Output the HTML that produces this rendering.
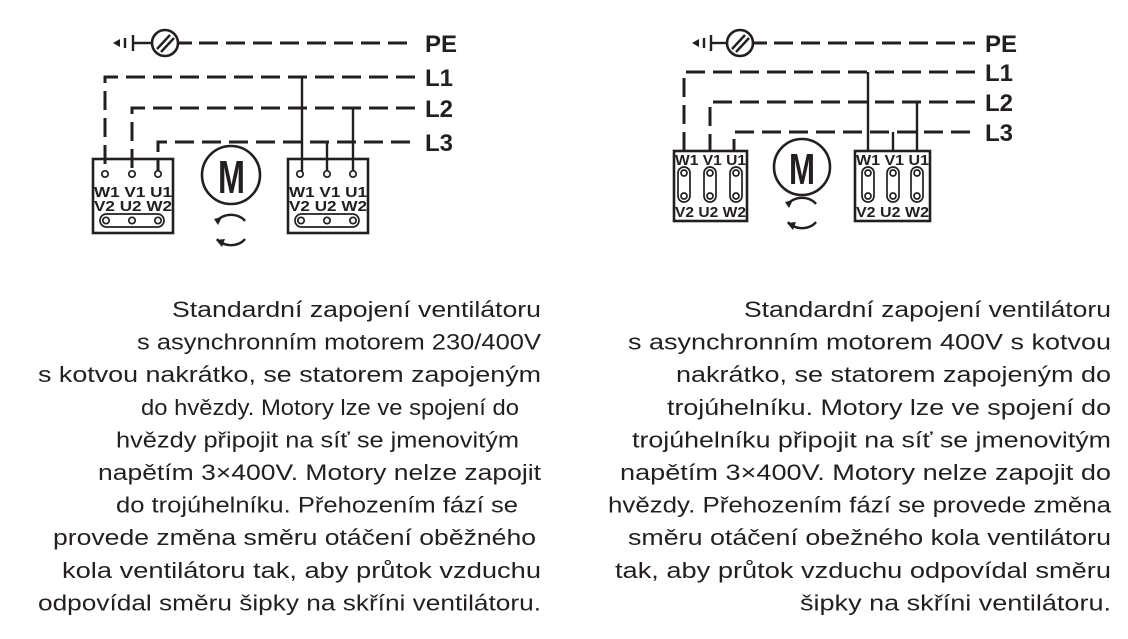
<!DOCTYPE html>
<html><head><meta charset="utf-8"><style>
html,body{margin:0;padding:0;background:#fff;}
svg{display:block;}
.t{font-family:"Liberation Sans",sans-serif;font-size:22.5px;fill:#231f20;}
.b{font-family:"Liberation Sans",sans-serif;font-weight:bold;fill:#231f20;}
</style></head><body>
<svg width="1128" height="639" viewBox="0 0 1128 639" xmlns="http://www.w3.org/2000/svg">
<defs>
<g id="arr">
  <path d="M-14,8 A16,12 0 0 1 14,8" fill="none" stroke="#231f20" stroke-width="2.4"/>
  <path d="M-17,6 L-9,4 L-13,12 Z" fill="#231f20"/>
  <path d="M-14,26 A16,12 0 0 0 14,26" fill="none" stroke="#231f20" stroke-width="2.4"/>
  <path d="M-15,27 L-6,26 L-9,34 Z" fill="#231f20"/>
</g>
</defs>
<g stroke="#231f20" fill="none">
<!-- LEFT DIAGRAM -->
<path d="M113,43 L120,39 L120,47 Z" fill="#231f20" stroke="none"/>
<line x1="125" y1="38" x2="125" y2="48" stroke-width="2.4"/>
<line x1="133" y1="35" x2="133" y2="51" stroke-width="2.4"/>
<line x1="133" y1="43" x2="151" y2="43" stroke-width="2.4"/>
<circle cx="165" cy="43" r="13" stroke-width="2.6"/>
<line x1="157" y1="49" x2="170" y2="35" stroke-width="2.4"/>
<line x1="161" y1="52" x2="174" y2="38" stroke-width="2.4"/>
<line x1="178" y1="43" x2="192" y2="43" stroke-width="3"/>
<line x1="199" y1="43" x2="415" y2="43" stroke-width="3" stroke-dasharray="19,8"/>
<g stroke-width="3" stroke-dasharray="19,8">
<path d="M415,77 L105,77 L105,171"/>
<path d="M415,108 L132,108 L132,171"/>
<path d="M410,142 L158,142 L158,171"/>
</g>
<g stroke-width="2.4">
<line x1="302" y1="77" x2="302" y2="171"/>
<line x1="327" y1="142" x2="327" y2="171"/>
<line x1="353" y1="108" x2="353" y2="171"/>
</g>
<rect x="93" y="159" width="80" height="74" stroke-width="2.6"/>
<rect x="288" y="159" width="80" height="74" stroke-width="2.6"/>
<g stroke-width="1.7" fill="#fff">
<circle cx="105" cy="174" r="3.2"/><circle cx="132" cy="174" r="3.2"/><circle cx="158" cy="174" r="3.2"/>
<circle cx="300" cy="174" r="3.2"/><circle cx="327" cy="174" r="3.2"/><circle cx="353" cy="174" r="3.2"/>
<rect x="100" y="214" width="64" height="13" rx="6.5"/>
<rect x="295" y="214" width="64" height="13" rx="6.5"/>
<circle cx="106" cy="220.5" r="3.2"/><circle cx="132" cy="220.5" r="3.2"/><circle cx="158" cy="220.5" r="3.2"/>
<circle cx="301" cy="220.5" r="3.2"/><circle cx="327" cy="220.5" r="3.2"/><circle cx="353" cy="220.5" r="3.2"/>
</g>
<circle cx="231" cy="175" r="29" stroke-width="2.6"/>

<!-- RIGHT DIAGRAM -->
<path d="M692,43 L699,39 L699,47 Z" fill="#231f20" stroke="none"/>
<line x1="704" y1="38" x2="704" y2="48" stroke-width="2.4"/>
<line x1="711" y1="35" x2="711" y2="51" stroke-width="2.4"/>
<line x1="711" y1="43" x2="727" y2="43" stroke-width="2.4"/>
<circle cx="740" cy="43" r="13" stroke-width="2.6"/>
<line x1="732" y1="49" x2="745" y2="35" stroke-width="2.4"/>
<line x1="736" y1="52" x2="749" y2="38" stroke-width="2.4"/>
<line x1="753" y1="43" x2="767" y2="43" stroke-width="3"/>
<line x1="774" y1="43" x2="975" y2="43" stroke-width="3" stroke-dasharray="19,8"/>
<g stroke-width="3" stroke-dasharray="19,8">
<path d="M975,72 L684,72 L684,152"/>
<path d="M975,102 L710,102 L710,152"/>
<path d="M970,132 L734,132 L734,152"/>
</g>
<g stroke-width="2.4">
<line x1="868" y1="72" x2="868" y2="152"/>
<line x1="893" y1="132" x2="893" y2="152"/>
<line x1="917" y1="102" x2="917" y2="152"/>
</g>
<rect x="674" y="151" width="73" height="70" stroke-width="2.6"/>
<rect x="855" y="151" width="75" height="70" stroke-width="2.6"/>
<g stroke-width="1.7" fill="#fff">
<rect x="678" y="167" width="12" height="35" rx="6"/>
<rect x="704" y="167" width="12" height="35" rx="6"/>
<rect x="730" y="167" width="12" height="35" rx="6"/>
<rect x="862" y="167" width="12" height="35" rx="6"/>
<rect x="887" y="167" width="12" height="35" rx="6"/>
<rect x="911" y="167" width="12" height="35" rx="6"/>
<circle cx="684" cy="173" r="3"/><circle cx="684" cy="196" r="3"/>
<circle cx="710" cy="173" r="3"/><circle cx="710" cy="196" r="3"/>
<circle cx="736" cy="173" r="3"/><circle cx="736" cy="196" r="3"/>
<circle cx="868" cy="173" r="3"/><circle cx="868" cy="196" r="3"/>
<circle cx="893" cy="173" r="3"/><circle cx="893" cy="196" r="3"/>
<circle cx="917" cy="173" r="3"/><circle cx="917" cy="196" r="3"/>
</g>
<circle cx="802" cy="167" r="28" stroke-width="2.6"/>
</g>
<use href="#arr" x="231" y="213"/>
<use href="#arr" x="802" y="196"/>

<!-- labels -->
<g class="b" font-size="24">
<text x="425" y="52">PE</text><text x="425" y="86">L1</text><text x="425" y="117">L2</text><text x="425" y="151">L3</text>
<text x="985" y="52">PE</text><text x="985" y="81">L1</text><text x="985" y="111">L2</text><text x="985" y="141">L3</text>
</g>
<g class="b" font-size="15">
<text x="94" y="197" textLength="78" lengthAdjust="spacingAndGlyphs">W1 V1 U1</text>
<text x="94" y="211" textLength="78" lengthAdjust="spacingAndGlyphs">V2 U2 W2</text>
<text x="289" y="197" textLength="78" lengthAdjust="spacingAndGlyphs">W1 V1 U1</text>
<text x="289" y="211" textLength="78" lengthAdjust="spacingAndGlyphs">V2 U2 W2</text>
<text x="675" y="165" textLength="71" lengthAdjust="spacingAndGlyphs">W1 V1 U1</text>
<text x="675" y="217" textLength="71" lengthAdjust="spacingAndGlyphs">V2 U2 W2</text>
<text x="856" y="165" textLength="73" lengthAdjust="spacingAndGlyphs">W1 V1 U1</text>
<text x="856" y="217" textLength="73" lengthAdjust="spacingAndGlyphs">V2 U2 W2</text>
</g>
<text class="b" font-size="46" x="218" y="193" textLength="27" lengthAdjust="spacingAndGlyphs">M</text>
<text class="b" font-size="44" x="789" y="184" textLength="26" lengthAdjust="spacingAndGlyphs">M</text>

<g class="t">
<text x="172" y="317" textLength="369" lengthAdjust="spacingAndGlyphs">Standardní zapojení ventilátoru</text>
<text x="137" y="349.6" textLength="404" lengthAdjust="spacingAndGlyphs">s asynchronním motorem 230/400V</text>
<text x="38" y="382.2" textLength="503" lengthAdjust="spacingAndGlyphs">s kotvou nakrátko, se statorem zapojeným</text>
<text x="141" y="414.8" textLength="378" lengthAdjust="spacingAndGlyphs">do hvězdy. Motory lze ve spojení do</text>
<text x="116" y="447.4" textLength="403" lengthAdjust="spacingAndGlyphs">hvězdy připojit na síť se jmenovitým</text>
<text x="98" y="480" textLength="443" lengthAdjust="spacingAndGlyphs">napětím 3×400V. Motory nelze zapojit</text>
<text x="116" y="512.6" textLength="402" lengthAdjust="spacingAndGlyphs">do trojúhelníku. Přehozením fází se</text>
<text x="53" y="545.2" textLength="483" lengthAdjust="spacingAndGlyphs">provede změna směru otáčení oběžného</text>
<text x="62" y="577.8" textLength="479" lengthAdjust="spacingAndGlyphs">kola ventilátoru tak, aby průtok vzduchu</text>
<text x="38" y="610.4" textLength="503" lengthAdjust="spacingAndGlyphs">odpovídal směru šipky na skříni ventilátoru.</text>

<text x="744" y="317" textLength="367" lengthAdjust="spacingAndGlyphs">Standardní zapojení ventilátoru</text>
<text x="628" y="349.6" textLength="483" lengthAdjust="spacingAndGlyphs">s asynchronním motorem 400V s kotvou</text>
<text x="676" y="382.2" textLength="435" lengthAdjust="spacingAndGlyphs">nakrátko, se statorem zapojeným do</text>
<text x="667" y="414.8" textLength="444" lengthAdjust="spacingAndGlyphs">trojúhelníku. Motory lze ve spojení do</text>
<text x="632" y="447.4" textLength="479" lengthAdjust="spacingAndGlyphs">trojúhelníku připojit na síť se jmenovitým</text>
<text x="620" y="480" textLength="491" lengthAdjust="spacingAndGlyphs">napětím 3×400V. Motory nelze zapojit do</text>
<text x="608" y="512.6" textLength="503" lengthAdjust="spacingAndGlyphs">hvězdy. Přehozením fází se provede změna</text>
<text x="628" y="545.2" textLength="483" lengthAdjust="spacingAndGlyphs">směru otáčení obežného kola ventilátoru</text>
<text x="615" y="577.8" textLength="496" lengthAdjust="spacingAndGlyphs">tak, aby průtok vzduchu odpovídal směru</text>
<text x="800" y="610.4" textLength="311" lengthAdjust="spacingAndGlyphs">šipky na skříni ventilátoru.</text>
</g>
</svg>
</body></html>
